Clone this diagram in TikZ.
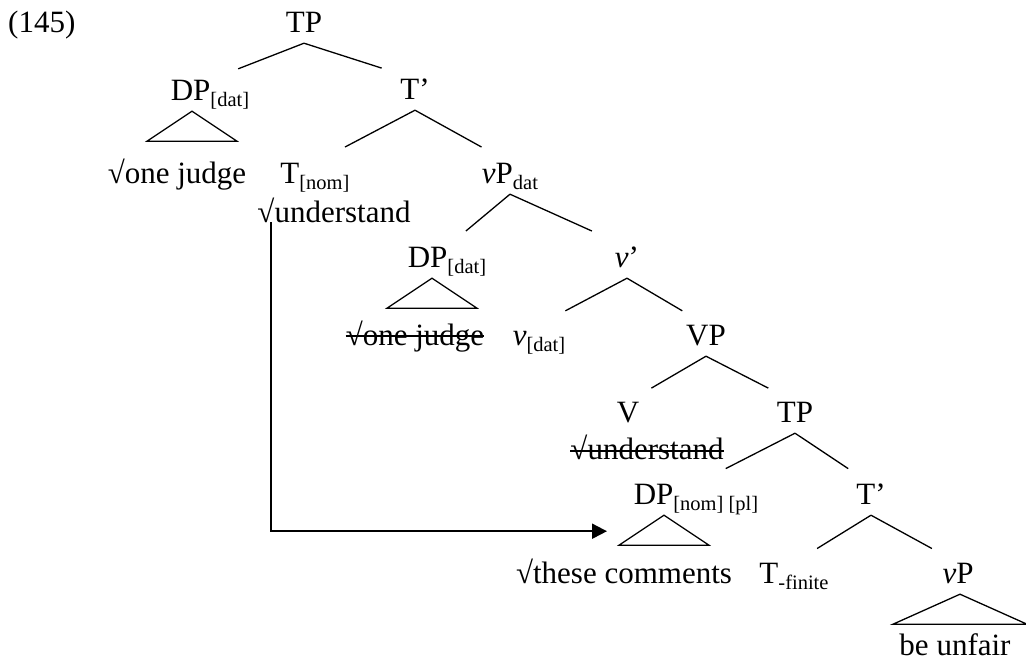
\documentclass[tikz,border=0pt]{standalone}
\usepackage{fontspec}
\setmainfont{Liberation Serif}
\usepackage{tikz}
\usetikzlibrary{arrows.meta,positioning,calc}
\newcommand{\lsub}[1]{\raisebox{-6pt}{\fontsize{20.5}{21}\selectfont #1}}

\begin{document}
\begin{tikzpicture}[x=1pt, y=-1pt,
  font=\fontsize{31}{37}\selectfont,
  cat/.style={inner sep=0pt, text height=20pt, text depth=11pt, anchor=base},
  branch/.style={line width=1.3pt},
  roof/.style={line width=1.3pt, line join=miter},
  strike/.style={line width=1.5pt},
  move/.style={line width=1.9pt, -{Triangle[length=15pt, width=15pt]}},
]
  \useasboundingbox (0,0) rectangle (1026,662);

  \node[cat, anchor=base west] (exnum) at (8,32) {(145)};

  \node[cat] (tp1) at (304,32) {TP};
  \node[cat] (dp1) at (210,100) {DP\lsub{[dat]}};
  \node[cat] (tb1) at (415,99) {T’};
  \node[cat] (oj1) at (177,183) {√one judge};
  \node[cat] (tn) at (315,183) {T\lsub{[nom]}};
  \node[cat] (un1) at (334,222) {√understand};
  \node[cat] (vpd) at (510,183) {\textit{v}P\lsub{dat}};
  \node[cat] (dp2) at (447,267) {DP\lsub{[dat]}};
  \node[cat] (vb) at (627,267) {\textit{v}’};
  \node[cat] (oj2) at (415,345) {√one judge};
  \node[cat] (vd) at (539,345) {\textit{v}\lsub{[dat]}};
  \node[cat] (vp) at (706,345) {VP};
  \node[cat] (v) at (628,422) {V};
  \node[cat] (un2) at (647,459) {√understand};
  \node[cat] (tp2) at (795,422) {TP};
  \node[cat] (dp3) at (696,504) {DP\lsub{[nom] [pl]}};
  \node[cat] (tb2) at (871,504) {T’};
  \node[cat] (tc) at (624,583) {√these comments};
  \node[cat] (tf) at (794,583) {T\lsub{-finite}};
  \node[cat] (vp3) at (958,583) {\textit{v}P};
  \node[cat] (bu) at (955,655) {be unfair};

  \foreach \p/\c in {tp1/dp1, tp1/tb1, tb1/tn, tb1/vpd, vpd/dp2, vpd/vb,
                     vb/vd, vb/vp, vp/v, vp/tp2, tp2/dp3, tp2/tb2, tb2/tf, tb2/vp3}
    \draw[branch] (\p.south) -- ($(\p.south)!.7!(\c.north)$);

  \draw[roof] ([xshift=-18pt]dp1.south) -- ++(-45,30) -- ++(90,0) -- cycle;
  \draw[roof] ([xshift=-15pt]dp2.south) -- ++(-45,30) -- ++(90,0) -- cycle;
  \draw[roof] ([xshift=-32pt]dp3.south) -- ++(-45,30) coordinate (r3) -- ++(90,0) -- cycle;
  \draw[roof] ([xshift=2pt]vp3.south) -- ++(-67,30) -- ++(134,0) -- cycle;

  \draw[strike] ([yshift=9pt]oj2.base west) -- ([yshift=9pt]oj2.base east);
  \draw[strike] ([yshift=8pt]un2.base west) -- ([yshift=8pt]un2.base east);

  \draw[move] ([xshift=14pt]un1.base west) |- ([shift={(-12,-14)}]r3);
\end{tikzpicture}
\end{document}
